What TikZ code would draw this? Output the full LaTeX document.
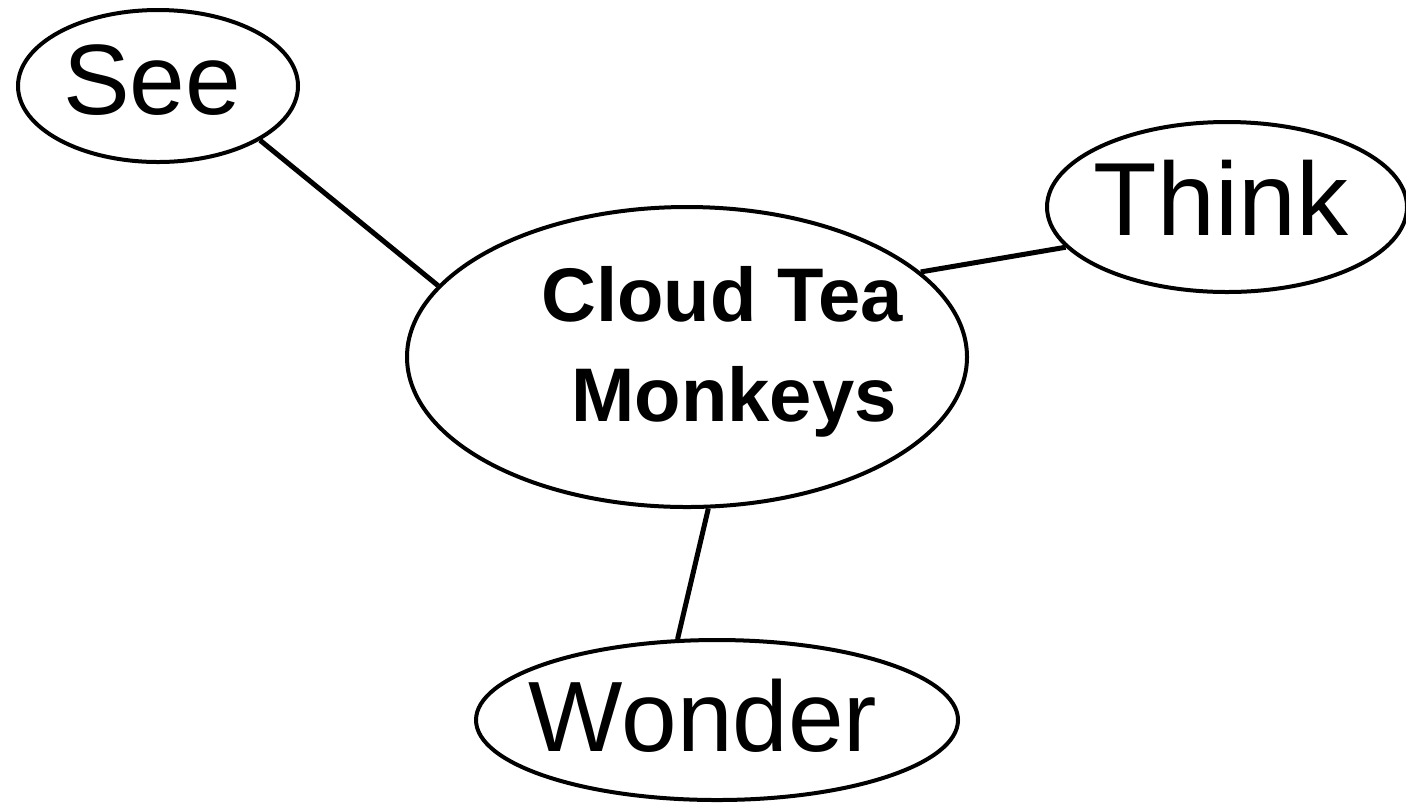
\documentclass[tikz,border=0pt]{standalone}
\usepackage{fontspec}
\setmainfont{Liberation Sans}
\usetikzlibrary{shapes.geometric}
\begin{document}
\begin{tikzpicture}[x=0.5pt,y=-0.5pt,
  bubble/.style={draw=black,line width=2pt,ellipse,inner sep=0pt},
  link/.style={draw=black,line width=2.5pt}]
\useasboundingbox (0,0) rectangle (1406,805);
\node[bubble,minimum width=140pt,minimum height=76pt] (see) at (158,86) {};
\node[font=\fontsize{50pt}{60pt}\selectfont] (seet) at (152,80) {See};
\node[bubble,minimum width=180pt,minimum height=85pt] (think) at (1227,207) {};
\node[font=\fontsize{52pt}{62pt}\selectfont] (thinkt) at (1221,198) {Think};
\node[bubble,minimum width=280pt,minimum height=150pt] (cloud) at (687,357) {};
\node[align=center,font=\fontsize{38pt}{50pt}\selectfont\bfseries] (ctext) at (722,352) {Cloud Tea\\\hspace*{12pt}Monkeys};
\node[bubble,minimum width=241pt,minimum height=80pt] (wonder) at (717,720) {};
\node[font=\fontsize{50pt}{60pt}\selectfont] (wondert) at (703,716) {Wonder};
\draw[link] (see.-28) -- (cloud.164);
\draw[link] (think.-166) -- (cloud.20);
\draw[link] (cloud.-82) -- (wonder.116);
\end{tikzpicture}
\end{document}
